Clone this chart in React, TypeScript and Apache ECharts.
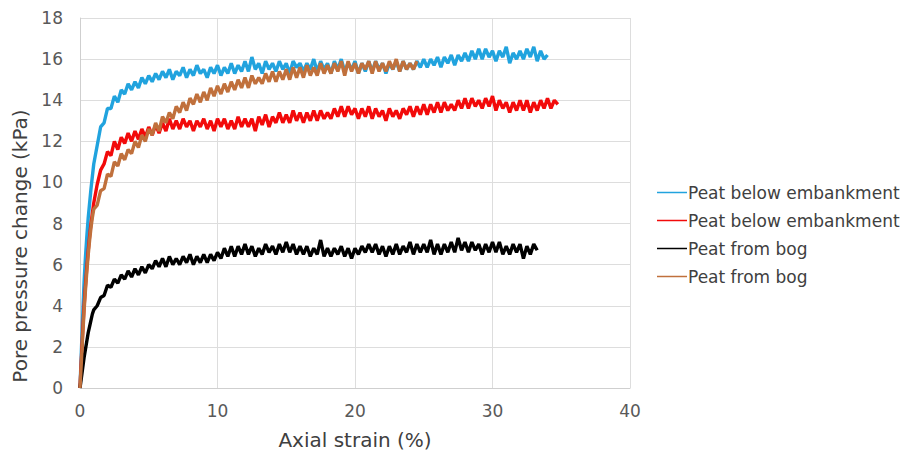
import React, { useEffect, useRef } from "react";
import * as echarts from "echarts";

// Shared axial strain sampling grid (%)
const strainGrid: number[] = [
  0, 0.1, 0.2, 0.3, 0.4, 0.5, 0.6, 0.7, 0.8, 0.9, 1.0,
  1.25, 1.5, 1.75, 2, 2.25, 2.5, 2.75, 3, 3.25, 3.5, 3.75, 4,
  4.25, 4.5, 4.75, 5, 5.25, 5.5, 5.75, 6, 6.25, 6.5, 6.75, 7,
  7.25, 7.5, 7.75, 8, 8.25, 8.5, 8.75, 9, 9.25, 9.5, 9.75, 10,
  10.25, 10.5, 10.75, 11, 11.25, 11.5, 11.75, 12, 12.25, 12.5, 12.75, 13,
  13.25, 13.5, 13.75, 14, 14.25, 14.5, 14.75, 15, 15.25, 15.5, 15.75, 16,
  16.25, 16.5, 16.75, 17, 17.25, 17.5, 17.75, 18, 18.25, 18.5, 18.75, 19,
  19.25, 19.5, 19.75, 20, 20.25, 20.5, 20.75, 21, 21.25, 21.5, 21.75, 22,
  22.25, 22.5, 22.75, 23, 23.25, 23.5, 23.75, 24, 24.25, 24.5, 24.75, 25,
  25.25, 25.5, 25.75, 26, 26.25, 26.5, 26.75, 27, 27.25, 27.5, 27.75, 28,
  28.25, 28.5, 28.75, 29, 29.25, 29.5, 29.75, 30, 30.25, 30.5, 30.75, 31,
  31.25, 31.5, 31.75, 32, 32.25, 32.5, 32.75, 33, 33.25, 33.5, 33.75, 34,
  34.25, 34.5, 34.75,
];

// Pore pressure change (kPa)
const embankmentBlue: number[] = [
  0, 1.8, 3.6, 5.2, 6.4, 7.4, 8.3, 9.0, 9.7, 10.3, 10.9,
  11.8, 12.7, 12.9, 13.6, 13.6, 14.2, 13.9, 14.5,
  14.3, 14.8, 14.5, 14.9, 14.6, 15.1, 14.8, 15.2,
  14.9, 15.3, 15.0, 15.4, 15.1, 15.5, 15.0, 15.4,
  15.2, 15.6, 15.1, 15.5, 15.2, 15.7, 15.3, 15.5,
  15.1, 15.6, 15.3, 15.7, 15.2, 15.6, 15.3, 15.8,
  15.3, 15.7, 15.4, 15.9, 15.4, 16.1, 15.5, 15.8,
  15.3, 15.9, 15.5, 15.8, 15.4, 15.9, 15.5, 15.8,
  15.3, 15.9, 15.6, 15.8, 15.4, 15.8, 15.5, 16.0,
  15.4, 15.9, 15.5, 15.8, 15.3, 15.9, 15.5, 16.0,
  15.4, 15.8, 15.5, 15.9, 15.3, 15.8, 15.4, 15.9,
  15.4, 15.9, 15.5, 15.8, 15.3, 15.8, 15.5, 15.9,
  15.4, 15.9, 15.5, 15.8, 15.5, 15.9, 15.6, 16.0,
  15.6, 16.0, 15.7, 16.1, 15.6, 16.1, 15.8, 16.2,
  15.7, 16.2, 15.9, 16.3, 15.9, 16.4, 16.0, 16.5,
  16.0, 16.5, 16.1, 16.4, 15.9, 16.4, 16.1, 16.6,
  15.8, 16.3, 16.0, 16.4, 16.0, 16.5, 16.1, 16.6,
  15.9, 16.4, 16.0, 16.2,
];

const embankmentRed: number[] = [
  0, 1.4, 2.8, 4.0, 5.0, 5.9, 6.7, 7.4, 8.0, 8.5, 9.0,
  9.9, 10.6, 10.9, 11.5, 11.3, 12.0, 11.6, 12.2,
  11.9, 12.4, 12.0, 12.5, 12.1, 12.6, 12.2, 12.7,
  12.3, 12.8, 12.4, 12.9, 12.5, 13.1, 12.6, 13.0,
  12.6, 13.1, 12.7, 13.0, 12.5, 13.0, 12.7, 13.1,
  12.6, 13.0, 12.5, 13.1, 12.7, 13.1, 12.6, 13.0,
  12.6, 13.2, 12.7, 13.1, 12.7, 13.1, 12.5, 13.2,
  12.8, 13.3, 12.7, 13.2, 12.9, 13.4, 12.9, 13.3,
  12.9, 13.5, 13.0, 13.4, 12.9, 13.4, 13.0, 13.5,
  13.0, 13.5, 13.1, 13.4, 13.1, 13.6, 13.2, 13.7,
  13.2, 13.7, 13.3, 13.6, 13.1, 13.6, 13.2, 13.7,
  13.1, 13.6, 13.2, 13.5, 13.0, 13.6, 13.2, 13.5,
  13.1, 13.6, 13.3, 13.7, 13.2, 13.7, 13.3, 13.8,
  13.3, 13.8, 13.4, 13.9, 13.4, 13.9, 13.5, 13.8,
  13.5, 14.0, 13.6, 14.1, 13.6, 14.1, 13.7, 14.0,
  13.6, 14.1, 13.7, 14.2, 13.5, 14.0, 13.6, 13.9,
  13.4, 13.9, 13.5, 14.0, 13.5, 14.0, 13.4, 13.9,
  13.5, 14.0, 13.6, 14.1, 13.6, 14.0, 13.8,
];

const bogBlack: number[] = [
  0, 0.5, 1.0, 1.5, 1.9, 2.3, 2.7, 3.0, 3.3, 3.6, 3.8,
  4.0, 4.4, 4.5, 5.0, 4.9, 5.3, 5.1, 5.5,
  5.3, 5.7, 5.4, 5.8, 5.5, 5.9, 5.6, 6.0,
  5.8, 6.2, 5.9, 6.3, 5.9, 6.4, 6.0, 6.3,
  6.0, 6.4, 6.1, 6.5, 6.0, 6.4, 6.1, 6.5,
  6.1, 6.5, 6.2, 6.6, 6.3, 6.8, 6.4, 6.9,
  6.4, 6.9, 6.5, 7.0, 6.5, 6.9, 6.4, 6.8,
  6.5, 7.0, 6.6, 6.9, 6.5, 7.0, 6.6, 7.1,
  6.6, 7.0, 6.5, 6.9, 6.5, 6.9, 6.4, 6.8,
  6.5, 7.2, 6.4, 6.8, 6.4, 6.8, 6.5, 6.9,
  6.4, 6.8, 6.3, 6.8, 6.5, 6.9, 6.6, 7.0,
  6.6, 7.0, 6.5, 6.9, 6.4, 6.9, 6.5, 7.0,
  6.5, 6.9, 6.6, 7.1, 6.5, 7.0, 6.6, 7.0,
  6.6, 7.2, 6.5, 7.0, 6.5, 7.0, 6.6, 7.1,
  6.6, 7.3, 6.7, 7.1, 6.6, 7.1, 6.7, 7.0,
  6.5, 7.0, 6.6, 7.1, 6.6, 7.1, 6.5, 6.9,
  6.5, 7.0, 6.6, 7.0, 6.3, 6.9, 6.5, 7.0,
  6.7,
];

const bogBrown: number[] = [
  0, 1.3, 2.6, 3.8, 4.8, 5.7, 6.5, 7.2, 7.8, 8.3, 8.7,
  8.9, 9.6, 9.7, 10.4, 10.3, 11.0, 10.8, 11.4,
  11.1, 11.6, 11.4, 12.0, 11.7, 12.3, 12.0, 12.6,
  12.3, 12.9, 12.5, 13.2, 12.9, 13.4, 13.1, 13.7,
  13.4, 13.9, 13.5, 14.1, 13.8, 14.3, 13.9, 14.4,
  14.0, 14.6, 14.2, 14.7, 14.3, 14.8, 14.4, 14.9,
  14.5, 15.0, 14.6, 15.1, 14.6, 15.2, 14.8, 15.1,
  14.8, 15.3, 14.9, 15.4, 14.9, 15.4, 15.0, 15.5,
  15.0, 15.6, 15.1, 15.6, 15.1, 15.7, 15.2, 15.6,
  15.2, 15.8, 15.3, 15.7, 15.3, 15.8, 15.4, 15.9,
  15.2, 15.9, 15.4, 15.8, 15.3, 15.8, 15.5, 15.9,
  15.3, 15.9, 15.4, 15.8, 15.4, 15.9, 15.5, 16.0,
  15.4, 15.9, 15.5, 15.8, 15.5, 15.9,
];

// Legend labels (two samples share each label)
const seriesLabels: string[] = [
  "Peat below embankment",
  "Peat below embankment",
  "Peat from bog",
  "Peat from bog",
];
const seriesKeys: string[] = ["embankment-1", "embankment-2", "bog-1", "bog-2"];
const seriesColors: string[] = ["#21a3de", "#f20a0a", "#000000", "#c0703c"];
const seriesValues: number[][] = [embankmentBlue, embankmentRed, bogBlack, bogBrown];

const xTicks = { min: 0, max: 40, interval: 10 };
const yTicks = { min: 0, max: 18, interval: 2 };

const FONT = "'DejaVu Sans', Verdana, sans-serif";

export default function App() {
  const ref = useRef<HTMLDivElement>(null);
  useEffect(() => {
    if (!ref.current) return;
    const chart = echarts.init(ref.current, undefined, { renderer: "svg" });
    const labelOf: Record<string, string> = {};
    seriesKeys.forEach((k, i) => (labelOf[k] = seriesLabels[i]));
    const series = seriesValues.map((vals, s) => ({
      name: seriesKeys[s],
      id: seriesKeys[s],
      type: "line",
      data: vals.map((y, i) => [strainGrid[i], y]),
      showSymbol: false,
      symbol: "none",
      color: seriesColors[s],
      lineStyle: { width: 3.4, color: seriesColors[s], join: "bevel" },
      z: 2 + s,
    }));
    chart.setOption({
      animation: false,
      backgroundColor: "#ffffff",
      textStyle: { fontFamily: FONT },
      grid: { left: 80, right: 285, top: 18, bottom: 70, containLabel: false },
      legend: {
        orient: "vertical",
        left: 657,
        top: 184,
        padding: 0,
        itemWidth: 30,
        itemHeight: 1.5,
        itemGap: 11,
        icon: "rect",
        itemStyle: { borderWidth: 0 },
        data: seriesKeys.map((n, i) => ({ name: n, itemStyle: { color: seriesColors[i], borderWidth: 0 } })),
        formatter: (name: string) => labelOf[name] ?? name,
        textStyle: { fontFamily: FONT, fontSize: 17, color: "#404040", padding: [0, 0, 0, -4], lineHeight: 17 },
        selectedMode: false,
      },
      xAxis: {
        type: "value",
        min: xTicks.min,
        max: xTicks.max,
        interval: xTicks.interval,
        name: "Axial strain (%)",
        nameLocation: "middle",
        nameGap: 42,
        nameTextStyle: { fontFamily: FONT, fontSize: 20, color: "#404040" },
        axisLine: { show: true, lineStyle: { color: "#cfcfcf", width: 1 } },
        axisTick: { show: false },
        axisLabel: { fontFamily: FONT, fontSize: 17, color: "#595959", margin: 14 },
        splitLine: { show: true, lineStyle: { color: "#dddddd", width: 1 } },
      },
      yAxis: {
        type: "value",
        min: yTicks.min,
        max: yTicks.max,
        interval: yTicks.interval,
        axisLine: { show: true, lineStyle: { color: "#cfcfcf", width: 1 } },
        axisTick: { show: false },
        axisLabel: { fontFamily: FONT, fontSize: 17, color: "#595959", margin: 17 },
        splitLine: { show: true, lineStyle: { color: "#dddddd", width: 1 } },
      },
      graphic: [
        {
          type: "text",
          x: 20,
          y: 246,
          rotation: Math.PI / 2,
          style: {
            text: "Pore pressure change (kPa)",
            fontFamily: FONT,
            fontSize: 20,
            fill: "#404040",
            align: "center",
            verticalAlign: "middle",
          },
        },
      ],
      series,
    });
    return () => chart.dispose();
  }, []);
  return (
    <div
      ref={ref}
      style={{ position: "fixed", left: 0, top: 0, width: 915, height: 458, background: "#fff" }}
    />
  );
}
